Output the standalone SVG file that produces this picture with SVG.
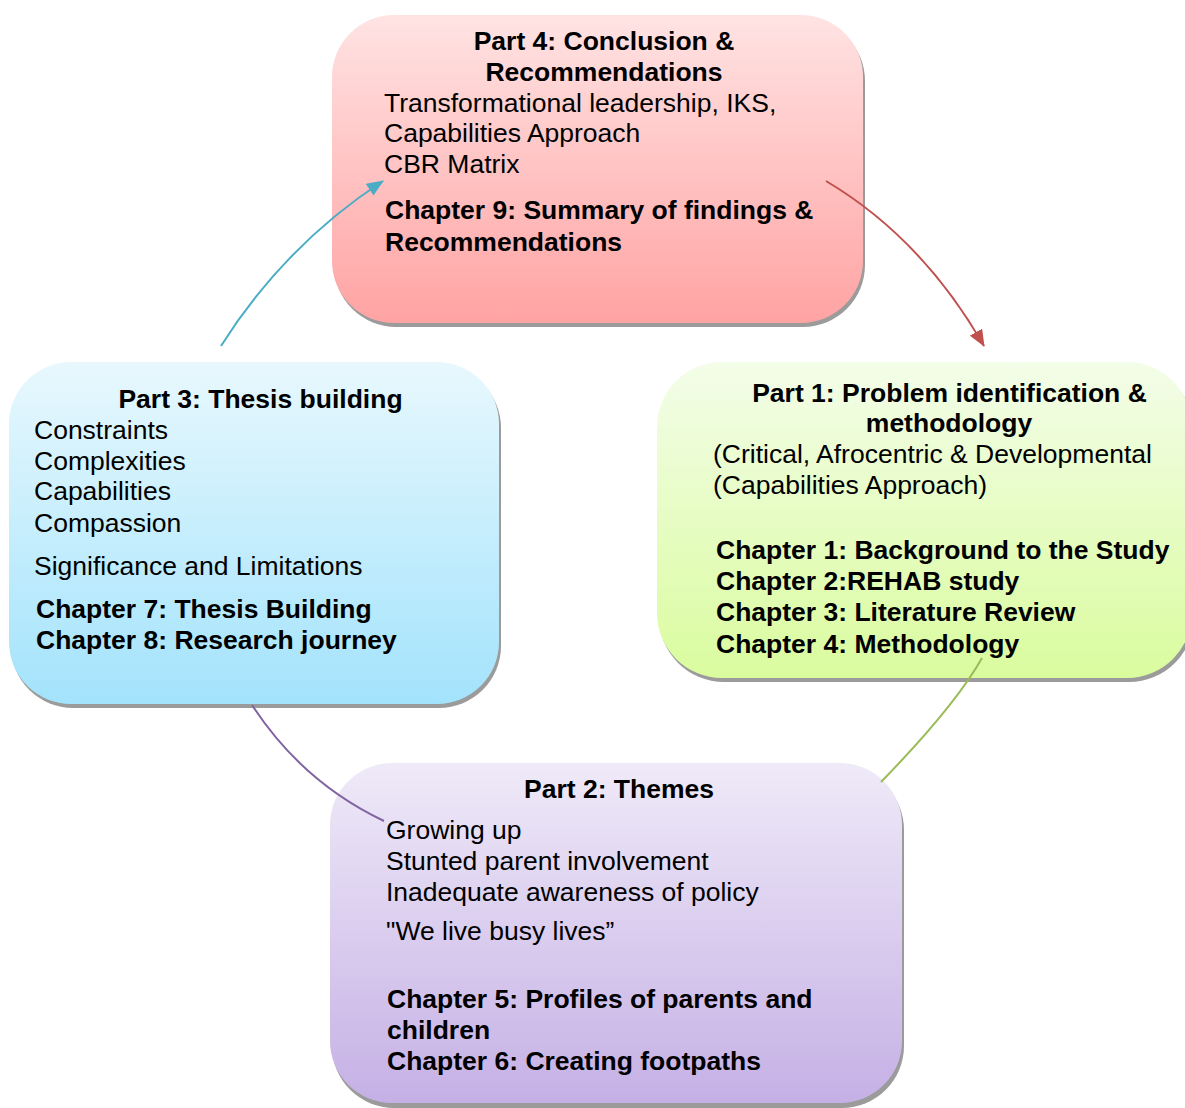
<svg xmlns="http://www.w3.org/2000/svg" width="1185" height="1108" viewBox="0 0 1185 1108">
<style>
text{font-family:"Liberation Sans",Arial,sans-serif;font-size:26.5px;fill:#000}
.b{font-weight:bold}
.c{text-anchor:middle}
.sh{fill:#9b9b9b}
.con{fill:none;stroke-width:2}
</style>
<defs>
<linearGradient id="gPink" x1="0" y1="0" x2="0" y2="1"><stop offset="0" stop-color="#ffe3e3"/><stop offset="1" stop-color="#ffa3a3"/></linearGradient>
<linearGradient id="gGreen" x1="0" y1="0" x2="0" y2="1"><stop offset="0" stop-color="#f3fde9"/><stop offset="1" stop-color="#dafc9e"/></linearGradient>
<linearGradient id="gBlue" x1="0" y1="0" x2="0" y2="1"><stop offset="0" stop-color="#e8f8fd"/><stop offset="1" stop-color="#a3e3fc"/></linearGradient>
<linearGradient id="gPurple" x1="0" y1="0" x2="0" y2="1"><stop offset="0" stop-color="#efeaf8"/><stop offset="1" stop-color="#c5b0e5"/></linearGradient>
<marker id="aBlue" viewBox="0 0 17 14" refX="16" refY="7" markerWidth="17" markerHeight="14" markerUnits="userSpaceOnUse" orient="auto"><path d="M0,0 L17,7 L0,14 Z" fill="#4bacc6"/></marker>
<marker id="aRed" viewBox="0 0 17 14" refX="16" refY="7" markerWidth="17" markerHeight="14" markerUnits="userSpaceOnUse" orient="auto"><path d="M0,0 L17,7 L0,14 Z" fill="#c0504d"/></marker>
</defs>

<g id="part4">
<rect class="sh" x="334" y="19" width="531" height="308" rx="62"/>
<rect x="332" y="15" width="531" height="308" rx="62" fill="url(#gPink)"/>
<text class="b c" x="604" y="50">Part 4: Conclusion &amp;</text>
<text class="b c" x="604" y="81">Recommendations</text>
<text x="384" y="112">Transformational leadership, IKS,</text>
<text x="384" y="142">Capabilities Approach</text>
<text x="384" y="173">CBR Matrix</text>
<text class="b" x="385" y="219">Chapter 9: Summary of findings &amp;</text>
<text class="b" x="385" y="251">Recommendations</text>
</g>

<g id="part1">
<rect class="sh" x="659" y="366" width="535" height="316" rx="65"/>
<rect x="657" y="362" width="535" height="316" rx="65" fill="url(#gGreen)"/>
<text class="b c" x="949.5" y="402">Part 1: Problem identification &amp;</text>
<text class="b c" x="949" y="432">methodology</text>
<text x="713" y="463">(Critical, Afrocentric &amp; Developmental</text>
<text x="713" y="494">(Capabilities Approach)</text>
<text class="b" x="716" y="559">Chapter 1: Background to the Study</text>
<text class="b" x="716" y="590">Chapter 2:REHAB study</text>
<text class="b" x="716" y="621">Chapter 3: Literature Review</text>
<text class="b" x="716" y="653">Chapter 4: Methodology</text>
</g>

<g id="part3">
<rect class="sh" x="11" y="366" width="490" height="342" rx="62"/>
<rect x="9" y="362" width="490" height="342" rx="62" fill="url(#gBlue)"/>
<text class="b c" x="260.5" y="408">Part 3: Thesis building</text>
<text x="34" y="439">Constraints</text>
<text x="34" y="470">Complexities</text>
<text x="34" y="500">Capabilities</text>
<text x="34" y="532">Compassion</text>
<text x="34" y="575">Significance and Limitations</text>
<text class="b" x="36" y="618">Chapter 7: Thesis Building</text>
<text class="b" x="36" y="649">Chapter 8: Research journey</text>
</g>

<g id="part2">
<rect class="sh" x="332" y="768" width="572" height="340" rx="62"/>
<rect x="330" y="763" width="572" height="340" rx="62" fill="url(#gPurple)"/>
<text class="b c" x="619" y="798">Part 2: Themes</text>
<text x="386" y="839">Growing up</text>
<text x="386" y="870">Stunted parent involvement</text>
<text x="386" y="901">Inadequate awareness of policy</text>
<text x="386" y="940">"We live busy lives”</text>
<text class="b" x="387" y="1008">Chapter 5: Profiles of parents and</text>
<text class="b" x="387" y="1039">children</text>
<text class="b" x="387" y="1070">Chapter 6: Creating footpaths</text>
</g>

<g id="connectors">
<path class="con" d="M221,346 Q285,245 383,181" stroke="#4bacc6" marker-end="url(#aBlue)"/>
<path class="con" d="M826,181 Q922,238 984,346" stroke="#c0504d" marker-end="url(#aRed)"/>
<path class="con" d="M982,658 Q955,706 881,782" stroke="#9bbb59"/>
<path class="con" d="M252,705 Q302,782 384,821" stroke="#8064a2"/>
</g>
</svg>
